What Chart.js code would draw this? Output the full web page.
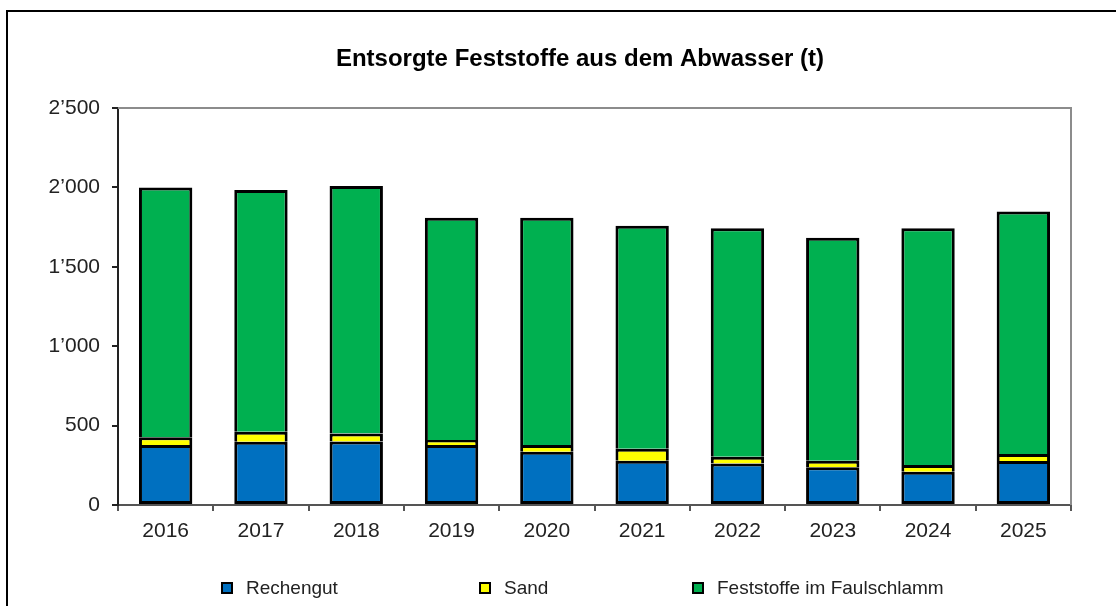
<!DOCTYPE html>
<html>
<head>
<meta charset="utf-8">
<script src="https://cdn.jsdelivr.net/npm/chart.js@4"></script>
<style>
  html, body { margin: 0; padding: 0; background: #fff; }
  #wrap { width: 1116px; height: 606px; }
</style>
</head>
<body>
<div id="wrap"><canvas id="chart" width="1116" height="606"></canvas></div>
<script>
// =======================
// Data (t)
// =======================
const years = ["2016", "2017", "2018", "2019", "2020", "2021", "2022", "2023", "2024", "2025"];
const rechengut = [378, 399, 400, 378, 336, 279, 262, 237, 210, 277];
const sand = [48, 63, 51, 31, 42, 76, 42, 42, 42, 44];
const faulschlamm = [1574, 1522, 1558, 1400, 1431, 1404, 1438, 1404, 1490, 1528];
const yTicks = [0, 500, 1000, 1500, 2000, 2500];

const chartTitle = "Entsorgte Feststoffe aus dem Abwasser (t)";
const FONT = "'Liberation Sans', Arial, sans-serif";

// thousands separator like 2’500
function fmt(v) {
    return String(v).replace(/\B(?=(\d{3})+(?!\d))/g, "’");
}

// frame, title, plot border and legend
const decor = {
    id: "decor",
    beforeDraw(chart) {
        const ctx = chart.ctx;
        ctx.save();
        ctx.fillStyle = "#fff";
        ctx.fillRect(0, 0, chart.width, chart.height);
        ctx.strokeStyle = "#000";
        ctx.lineWidth = 2;
        ctx.beginPath();
        ctx.moveTo(7, chart.height + 2);
        ctx.lineTo(7, 11);
        ctx.lineTo(chart.width + 2, 11);
        ctx.stroke();
        ctx.restore();
    },
    afterDraw(chart) {
        const ctx = chart.ctx;
        const a = chart.chartArea;
        ctx.save();

        // top + right border of plot area
        ctx.strokeStyle = "#8c8c8c";
        ctx.lineWidth = 2;
        ctx.beginPath();
        ctx.moveTo(a.left, a.top);
        ctx.lineTo(a.right, a.top);
        ctx.lineTo(a.right, a.bottom);
        ctx.stroke();

        // title
        ctx.fillStyle = "#000";
        ctx.font = "bold 24px " + FONT;
        ctx.textAlign = "center";
        ctx.textBaseline = "middle";
        ctx.fillText(chartTitle, 580, 59);

        // legend
        const xs = [222, 480, 693];
        ctx.font = "19px " + FONT;
        ctx.textAlign = "left";
        chart.data.datasets.forEach((ds, i) => {
            ctx.fillStyle = ds.backgroundColor;
            ctx.fillRect(xs[i], 583, 10, 10);
            ctx.strokeStyle = "#000";
            ctx.lineWidth = 2;
            ctx.strokeRect(xs[i], 583, 10, 10);
            ctx.fillStyle = "#222";
            ctx.fillText(ds.label, xs[i] + 24, 589);
        });
        ctx.restore();
    }
};

// upper segments skip their bottom edge so each joint is one line
function makeSet(label, data, color, skip) {
    return {
        label: label,
        data: data,
        backgroundColor: color,
        borderColor: "#000",
        borderWidth: 3,
        borderSkipped: skip,
        categoryPercentage: 1,
        barPercentage: 0.56
    };
}

new Chart(document.getElementById("chart"), {
    type: "bar",
    data: {
        labels: years,
        datasets: [
            makeSet("Rechengut", rechengut, "#0070c0", false),
            makeSet("Sand", sand, "#ffff00", "bottom"),
            makeSet("Feststoffe im Faulschlamm", faulschlamm, "#00b050", "bottom")
        ]
    },
    plugins: [decor],
    options: {
        responsive: false,
        animation: false,
        layout: { padding: { left: 0, top: 108, right: 45, bottom: 0 } },
        plugins: {
            legend: { display: false },
            title: { display: false },
            tooltip: { enabled: false }
        },
        scales: {
            x: {
                stacked: true,
                border: { color: "#555", width: 2 },
                grid: { drawOnChartArea: false, tickLength: 6, color: "#555", lineWidth: 2 },
                ticks: { color: "#222", font: { family: FONT, size: 21 }, padding: 8 },
                afterFit(scale) { scale.height = 101; }
            },
            y: {
                stacked: true,
                min: 0,
                max: 2500,
                afterBuildTicks(scale) {
                    scale.ticks = yTicks.map(v => ({ value: v }));
                },
                border: { color: "#222", width: 2 },
                grid: { drawOnChartArea: false, tickLength: 6, color: "#222", lineWidth: 2 },
                ticks: {
                    color: "#222",
                    font: { family: FONT, size: 21 },
                    padding: 12,
                    callback: v => fmt(v)
                },
                afterFit(scale) { scale.width = 118; }
            }
        }
    }
});
</script>
</body>
</html>
